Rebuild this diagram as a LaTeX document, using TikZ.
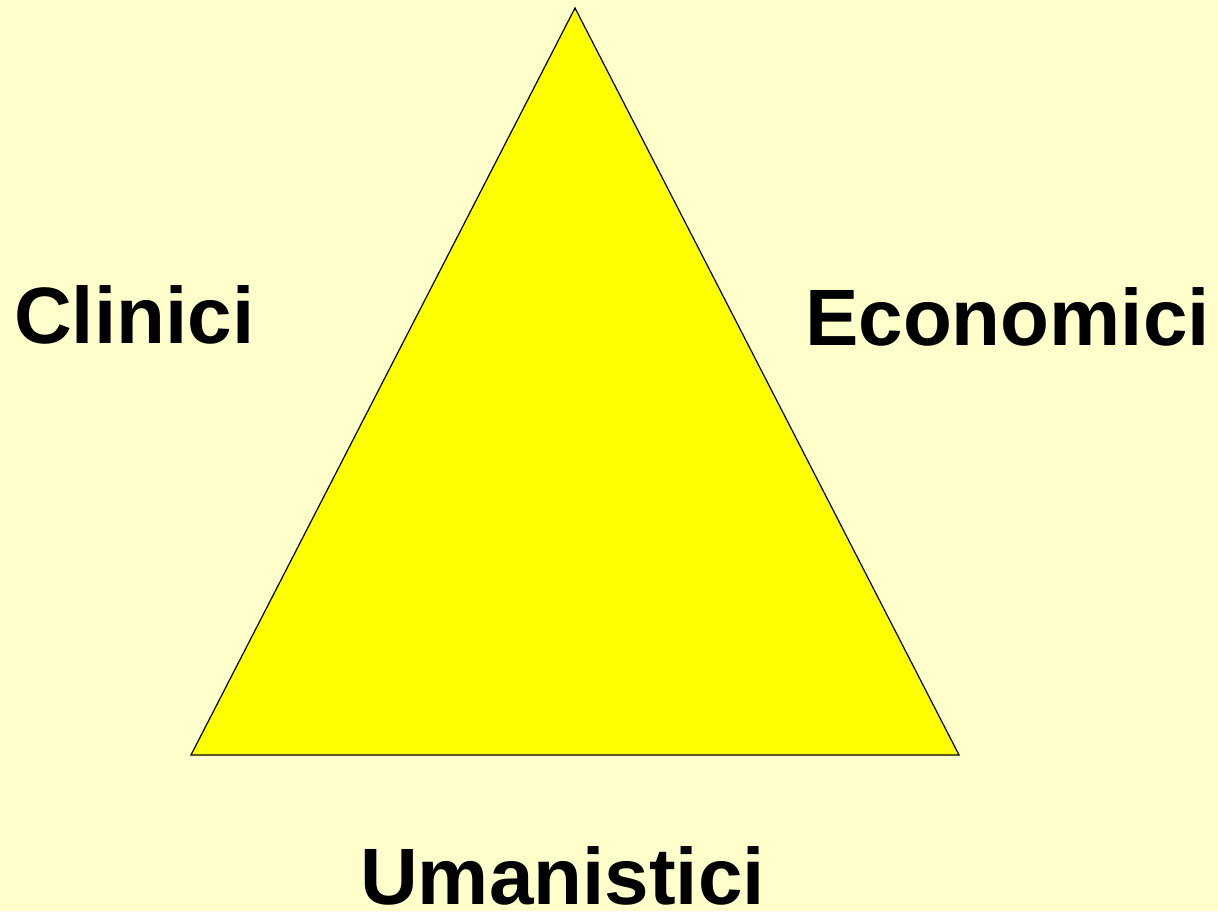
\documentclass[tikz,border=0pt]{standalone}
\usepackage{fontspec}
\setmainfont{Liberation Sans}
\definecolor{bgcol}{RGB}{255,255,204}
\definecolor{tricol}{RGB}{255,255,0}
\tikzset{lbl/.style={inner sep=0pt, anchor=base west, font=\fontsize{80}{90}\selectfont\bfseries}}
\begin{document}
\begin{tikzpicture}[x=1pt,y=-1pt]
\fill[bgcol] (0,0) rectangle (1218,911);
\useasboundingbox (0,0) rectangle (1218,911);
\coordinate (top) at (575,8);
\coordinate (bl) at (191,755);
\coordinate (br) at (959,755);
\filldraw[fill=tricol, draw=black, line width=1.2pt, line join=miter] (top) -- (bl) -- (br) -- cycle;
\node[lbl] (clin) at (14,343) {Clinici};
\node[lbl] (econ) at (805,345) {Economici};
\node[lbl] (uman) at (360,904) {Umanistici};
\end{tikzpicture}
\end{document}
